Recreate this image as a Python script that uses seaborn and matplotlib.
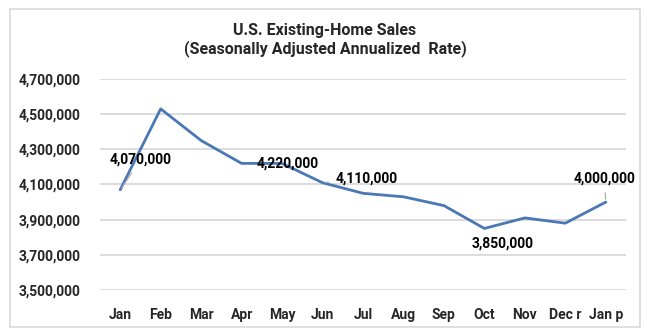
import matplotlib
matplotlib.use("Agg")
import matplotlib.pyplot as plt
from matplotlib.patches import Rectangle
from matplotlib.ticker import FuncFormatter
import pandas as pd
import seaborn as sns

# Monthly existing-home sales, seasonally adjusted annualized rate
months = ["Jan", "Feb", "Mar", "Apr", "May", "Jun", "Jul", "Aug", "Sep",
          "Oct", "Nov", "Dec r", "Jan p"]
sales = [4070000, 4530000, 4350000, 4220000, 4220000, 4110000, 4050000,
         4030000, 3980000, 3850000, 3910000, 3880000, 4000000]
y_ticks = [3500000, 3700000, 3900000, 4100000, 4300000, 4500000, 4700000]
labeled_months = ["Jan", "May", "Jun", "Oct", "Jan p"]

title = "U.S. Existing-Home Sales\n(Seasonally Adjusted Annualized  Rate)"

sns.set_theme(style="white")
plt.rcParams["font.family"] = ["Roboto", "DejaVu Sans"]
plt.rcParams["font.weight"] = "bold"

W, H = 650, 334
fig = plt.figure(figsize=(W / 100, H / 100), dpi=100)
fig.patch.set_facecolor("white")

# light frame around the whole chart
fig.patches.append(Rectangle((10 / W, 1 - 327 / H), 630 / W, 318 / H,
                             transform=fig.transFigure, fill=False,
                             edgecolor="#d9d9d9", linewidth=1.2))

ax = fig.add_axes([100 / W, 1 - 290 / H, 526 / W, 211 / H])
df = pd.DataFrame({"month": months, "sales": sales})
sns.lineplot(data=df, x="month", y="sales", sort=False, ax=ax,
             color="#4a78b4", linewidth=2.0)

ax.set_xlim(-0.5, len(months) - 0.5)
ax.set_ylim(y_ticks[0], y_ticks[-1])
ax.set_yticks(y_ticks)
ax.yaxis.set_major_formatter(FuncFormatter(lambda v, p: f"{int(v):,}"))
ax.grid(axis="y", color="#d9d9d9", linewidth=1.3)
ax.grid(axis="x", visible=False)
for s in ax.spines.values():
    s.set_visible(False)
ax.set_xlabel("")
ax.set_ylabel("")
ax.tick_params(axis="both", length=0, labelsize=10)
ax.tick_params(axis="y", pad=14)
ax.tick_params(axis="x", pad=13)
for t in ax.get_xticklabels() + ax.get_yticklabels():
    t.set_fontweight("bold")

fig.text(325 / W, 1 - 40 / H, title, ha="center", va="center",
         fontsize=11.5, fontweight="bold", linespacing=1.2)

# data labels (offsets in points from each labelled point)
offsets = {"Jan": (15, 22), "May": (4, 0), "Jun": (32, 3),
           "Oct": (13, -11), "Jan p": (-1, 17)}
leaders = {"Jan", "Jun", "Jan p"}
for m in labeled_months:
    i = months.index(m)
    v = sales[i]
    kw = {}
    if m in leaders:
        kw["arrowprops"] = dict(arrowstyle="-", color="#a6a6a6", lw=0.8,
                                shrinkA=3, shrinkB=2)
    ax.annotate(f"{v:,}", xy=(i, v), xytext=offsets[m],
                textcoords="offset points", ha="center", va="center",
                fontsize=10, fontweight="bold", color="black", **kw)

fig.savefig("out.png", dpi=100)
